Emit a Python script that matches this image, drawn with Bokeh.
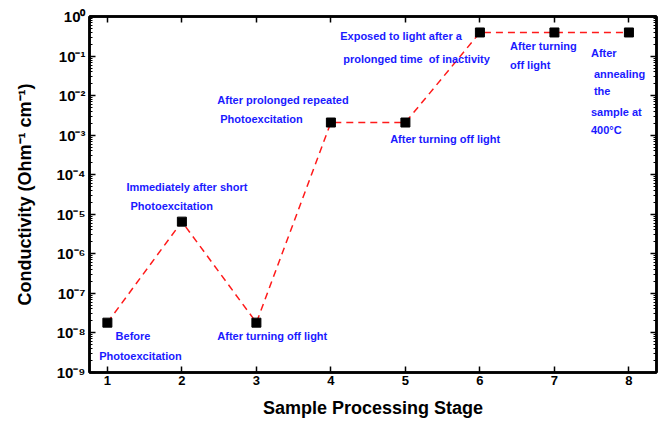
from bokeh.plotting import figure
from bokeh.models import (LogAxis, LinearAxis, FixedTicker, LogTicker,
                          CustomJSTickFormatter, Range1d, ColumnDataSource)
from bokeh.core.properties import value
from bokeh.embed import file_html
from bokeh.resources import INLINE

# ---- data ----
stages = [1, 2, 3, 4, 5, 6, 7, 8]
conductivity = [1.8e-8, 6.5e-6, 1.8e-8, 2.1e-3, 2.1e-3, 0.40, 0.40, 0.40]
x_ticks = [1, 2, 3, 4, 5, 6, 7, 8]

# annotation texts with (x, log10 y) anchor of each line's left/middle
ann_text = ["Before", "Photoexcitation",
            "Immediately after short", "Photoexcitation",
            "After turning off light",
            "After prolonged repeated", "Photoexcitation",
            "After turning off light",
            "Exposed to light after a", "prolonged time \u00a0of inactivity",
            "After turning", "off light",
            "After", "annealing", "the", "sample at", "400\u00b0C"]
ann_x = [1.11, 0.89,
         1.255, 1.31,
         2.475,
         2.475, 2.515,
         4.795,
         4.125, 4.165,
         6.404, 6.404,
         7.49, 7.53, 7.53, 7.49, 7.49]
ann_logy = [-8.09, -8.60,
            -4.31, -4.79,
            -8.07,
            -2.12, -2.60,
            -3.10,
            -0.48, -1.08,
            -0.73, -1.21,
            -0.93, -1.44, -1.89, -2.40, -2.87]

FONT = "Liberation Sans"

p = figure(width=659, height=420, y_axis_type="log",
           x_range=Range1d(0.76, 8.37), y_range=Range1d(0.985e-9, 1.015),
           output_backend="svg", toolbar_location=None,
           min_border_left=89, min_border_right=3, min_border_top=16,
           min_border_bottom=47)
p.grid.visible = False
p.outline_line_color = "black"
p.outline_line_width = 2.5
p.background_fill_color = "white"
p.border_fill_color = "white"

sup = CustomJSTickFormatter(code="""
const m = {'-':'\u207b','0':'\u2070','1':'\u00b9','2':'\u00b2','3':'\u00b3','4':'\u2074','5':'\u2075','6':'\u2076','7':'\u2077','8':'\u2078','9':'\u2079'};
const e = Math.round(Math.log10(tick));
return '10' + String(e).split('').map(c => m[c]).join('');
""")
blank = CustomJSTickFormatter(code="return '';")

ya = p.yaxis[0]
ya.ticker = LogTicker(num_minor_ticks=10)
ya.formatter = sup
ya.axis_label = "Conductivity (Ohm\u207b\u00b9 cm\u207b\u00b9)"
xa = p.xaxis[0]
xa.ticker = FixedTicker(ticks=x_ticks)
xa.axis_label = "Sample Processing Stage"

for ax in (xa, ya):
    ax.axis_line_width = 2.5
    ax.major_tick_in = 6
    ax.major_tick_out = 0
    ax.minor_tick_in = 3
    ax.minor_tick_out = 0
    ax.major_tick_line_width = 1.5
    ax.minor_tick_line_width = 1
    ax.major_label_text_font = FONT
    ax.major_label_text_font_style = "bold"
    ax.axis_label_text_font = FONT
    ax.axis_label_text_font_style = "bold"
    ax.axis_label_text_font_size = "18px"
    ax.axis_label_text_color = "black"
    ax.major_label_text_color = "black"

ya.major_label_text_font_size = "15px"
ya.major_label_standoff = 4
ya.axis_label_standoff = 18
xa.major_label_text_font_size = "13px"
xa.major_label_standoff = 3
xa.axis_label_standoff = 10

top = LinearAxis(ticker=FixedTicker(ticks=x_ticks), formatter=blank,
                 major_tick_in=6, major_tick_out=0, axis_line_width=2.5,
                 major_tick_line_width=1.5, major_label_standoff=0)
p.add_layout(top, "above")
right = LogAxis(ticker=LogTicker(num_minor_ticks=10), formatter=blank,
                major_tick_in=6, major_tick_out=0, minor_tick_in=3, minor_tick_out=0,
                axis_line_width=2.5, major_tick_line_width=1.5, major_label_standoff=0)
p.add_layout(right, "right")

src = ColumnDataSource(dict(x=stages, y=conductivity))
p.line("x", "y", source=src, line_color="#ff1a1a", line_width=1.5, line_dash="7 5")
p.scatter("x", "y", source=src, marker="square", size=9, fill_color="black", line_color="black")

asrc = ColumnDataSource(dict(x=ann_x, y=[10 ** v for v in ann_logy], t=ann_text))
p.text("x", "y", text="t", source=asrc, text_font=value(FONT), text_font_style="bold",
       text_font_size="11px", text_color="#1a1aff", text_baseline="middle",
       text_align="left")

open("out.html", "w").write(file_html(p, INLINE))
